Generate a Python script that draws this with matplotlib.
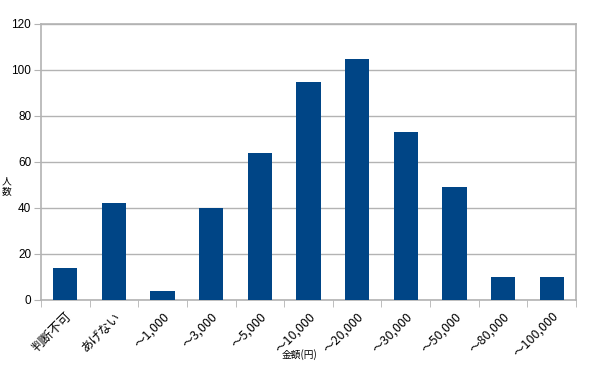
import matplotlib
matplotlib.use("Agg")
import matplotlib.pyplot as plt
import numpy as np

plt.rcParams['font.family'] = ['Noto Sans CJK JP', 'DejaVu Sans']

categories = ["判断不可", "あげない", "～1,000", "～3,000", "～5,000", "～10,000",
              "～20,000", "～30,000", "～50,000", "～80,000", "～100,000"]
values = [14, 42, 4, 40, 64, 95, 105, 73, 49, 10, 10]
yticks = [0, 20, 40, 60, 80, 100, 120]

fig = plt.figure(figsize=(5.89, 3.68), dpi=100)
ax = fig.add_axes([41/589, 1-300/368, (576-41)/589, (300-24)/368])

x = np.arange(len(categories))
ax.bar(x, values, width=0.5, color="#004586", zorder=3)
ax.set_xlim(-0.5, len(categories)-0.5)
ax.set_ylim(0, 120)
ax.set_yticks(yticks)
ax.set_yticklabels([str(v) for v in yticks], fontsize=8.5, family=['Liberation Sans'])
ax.yaxis.grid(True, color="#b3b3b3", linewidth=1, zorder=0)
for s in ax.spines.values():
    s.set_color("#b3b3b3")
    s.set_linewidth(1.2)
ax.tick_params(axis='y', length=5, color="#b3b3b3", pad=2)
ax.set_xticks(x)
ax.set_xticklabels(categories, rotation=45, ha='right', rotation_mode='anchor', fontsize=9)
ax.tick_params(axis='x', length=0, pad=7)
ax.set_xticks(np.arange(len(categories)+1) - 0.5, minor=True)
ax.tick_params(axis='x', which='minor', length=5, color="#b3b3b3")

fig.text(300/589, 1-355/368, "金額(円)", ha='center', va='center', fontsize=7)
fig.text(7/589, 1-186/368, "人\n数", ha='center', va='center', fontsize=7, linespacing=1.0)

fig.savefig("out.png", dpi=100)
